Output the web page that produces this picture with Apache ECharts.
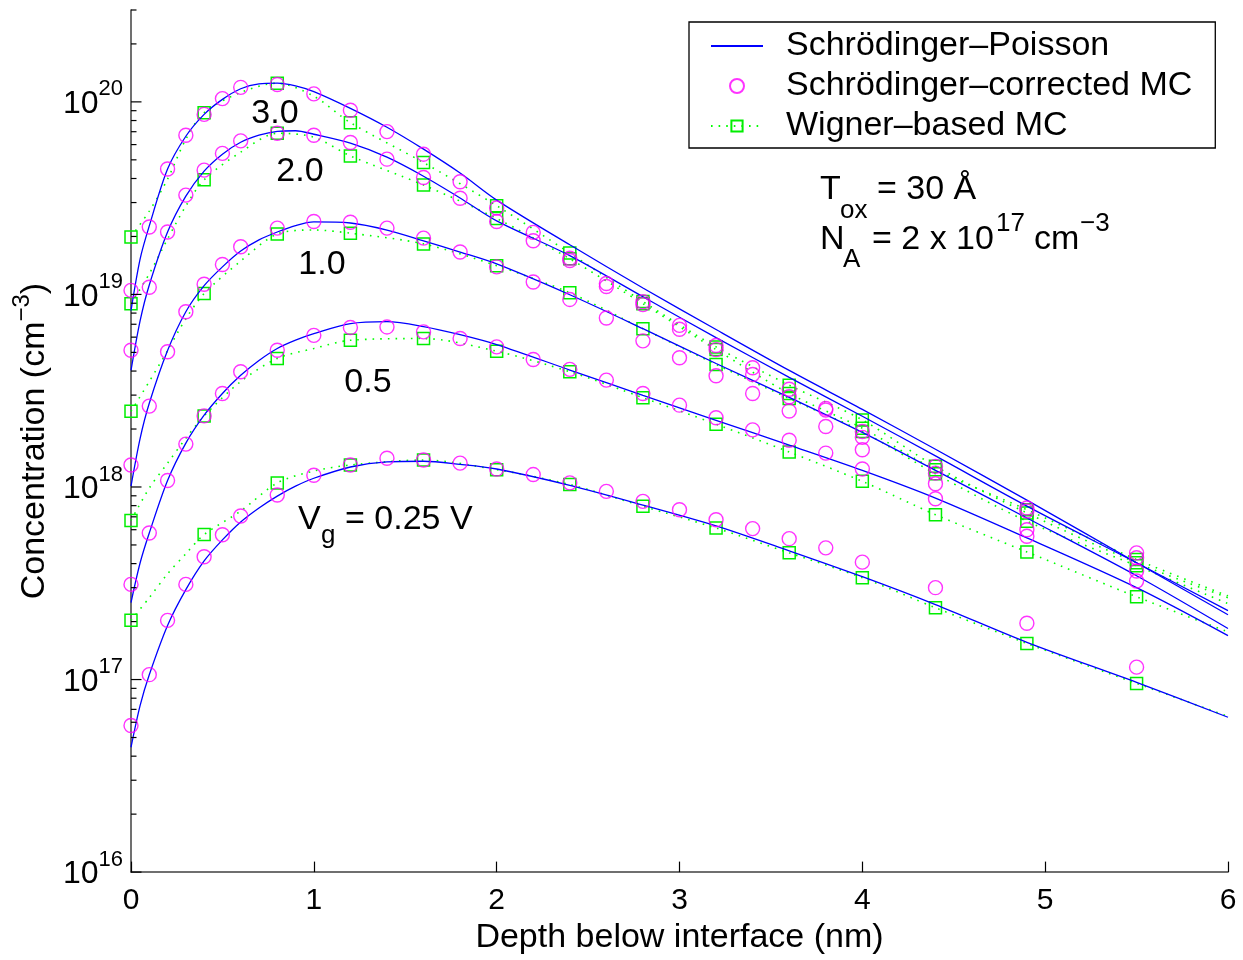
<!DOCTYPE html>
<html>
<head>
<meta charset="utf-8">
<script src="https://cdn.jsdelivr.net/npm/echarts@6.0.0/dist/echarts.min.js"></script>
<style>
html,body{margin:0;padding:0;background:#fff;}
#chart{width:1243px;height:960px;}
</style>
</head>
<body>
<div id="chart"></div>
<script>
// ---------------- DATA ----------------
// Schrödinger–Poisson (solid curves), depth in nm
const spX = [0,0.05,0.1,0.2,0.3,0.4,0.5,0.6,0.7,0.8,0.9,1.0,1.2,1.4,1.6,1.8,2.0,2.4,2.8,3.2,3.6,4.0,4.4,4.9,5.5,6.0];
const sp30 = [8.24e18,1.53e19,2.27e19,4.48e19,6.63e19,8.61e19,1.03e20,1.17e20,1.24e20,1.25e20,1.21e20,1.13e20,9.25e19,7.38e19,5.68e19,4.27e19,3.09e19,1.81e19,1.08e19,6.57e18,4.03e18,2.53e18,1.57e18,8.55e17,4.04e17,2.17e17];
const sp20 = [4.03e18,7.31e18,1.12e19,2.11e19,3.24e19,4.37e19,5.35e19,6.17e19,6.71e19,7.03e19,7.08e19,6.79e19,6.10e19,5.16e19,4.11e19,3.17e19,2.41e19,1.59e19,9.73e18,5.97e18,3.71e18,2.33e18,1.45e18,7.96e17,4.04e17,2.28e17];
const sp10 = [1.01e18,1.79e18,2.72e18,5.11e18,8.13e18,1.11e19,1.39e19,1.68e19,1.92e19,2.11e19,2.28e19,2.38e19,2.35e19,2.16e19,1.90e19,1.66e19,1.44e19,9.96e18,6.64e18,4.38e18,2.92e18,1.92e18,1.22e18,6.90e17,3.46e17,1.84e17];
const sp05 = [2.51e17,4.04e17,5.77e17,1.08e18,1.69e18,2.36e18,3.06e18,3.80e18,4.54e18,5.24e18,5.79e18,6.26e18,7.05e18,7.22e18,6.81e18,6.18e18,5.49e18,4.05e18,2.99e18,2.22e18,1.65e18,1.22e18,8.76e17,5.44e17,3.00e17,1.69e17];
const sp025 = [4.45e16,7.35e16,1.06e17,1.91e17,2.93e17,4.13e17,5.31e17,6.58e17,7.78e17,8.97e17,1.01e18,1.11e18,1.27e18,1.35e18,1.36e18,1.31e18,1.24e18,1.02e18,8.06e17,6.28e17,4.66e17,3.42e17,2.45e17,1.56e17,9.66e16,6.37e16];

// Schrödinger-corrected MC (circles)
const cX = [0,0.1,0.2,0.3,0.4,0.5,0.6,0.8,1.0,1.2,1.4,1.6,1.8,2.0,2.2,2.4,2.6,2.8,3.0,3.2,3.4,3.6,3.8,4.0,4.4,4.9,5.5];
const c30 = [1.05e19,2.24e19,4.48e19,6.71e19,8.61e19,1.04e20,1.19e20,1.23e20,1.10e20,9.04e19,7.01e19,5.35e19,3.85e19,2.81e19,2.10e19,1.54e19,1.14e19,9.16e18,6.91e18,5.43e18,4.16e18,3.22e18,2.56e18,1.94e18,1.28e18,7.50e17,4.29e17];
const c20 = [5.13e18,1.09e19,2.11e19,3.28e19,4.42e19,5.40e19,6.27e19,6.87e19,6.71e19,6.15e19,5.04e19,4.05e19,3.16e19,2.39e19,1.90e19,1.50e19,1.10e19,8.85e18,6.59e18,5.17e18,3.84e18,2.94e18,2.51e18,1.81e18,1.18e18,7.78e17,4.55e17];
const c10 = [1.30e18,2.63e18,5.04e18,8.13e18,1.13e19,1.43e19,1.77e19,2.21e19,2.39e19,2.37e19,2.21e19,1.96e19,1.66e19,1.39e19,1.16e19,9.42e18,7.55e18,5.74e18,4.69e18,3.78e18,3.06e18,2.48e18,2.06e18,1.56e18,1.04e18,6.00e17,3.66e17];
const c05 = [3.12e17,5.77e17,1.08e18,1.67e18,2.34e18,3.06e18,3.97e18,5.13e18,6.13e18,6.73e18,6.78e18,6.39e18,5.90e18,5.34e18,4.59e18,4.08e18,3.59e18,3.06e18,2.66e18,2.29e18,1.98e18,1.75e18,1.50e18,1.24e18,8.69e17,5.55e17,3.25e17];
const c025 = [5.77e16,1.06e17,2.03e17,3.12e17,4.34e17,5.65e17,7.07e17,9.08e17,1.15e18,1.30e18,1.41e18,1.38e18,1.33e18,1.24e18,1.16e18,1.05e18,9.49e17,8.42e17,7.62e17,6.76e17,6.08e17,5.39e17,4.83e17,4.07e17,3.00e17,1.96e17,1.16e17];

// Wigner-based MC (dotted curve; squares at sqX depths)
const wX = [0,0.1,0.2,0.3,0.4,0.6,0.8,1.0,1.2,1.6,2.0,2.4,2.8,3.2,3.6,4.0,4.4,4.9,5.5,6.0];
const sqX = [0,0.4,0.8,1.2,1.6,2.0,2.4,2.8,3.2,3.6,4.0,4.4,4.9,5.5];
const w30 = [1.99e19,2.71e19,3.97e19,6.40e19,8.79e19,1.12e20,1.25e20,1.07e20,7.80e19,4.84e19,2.89e19,1.64e19,9.18e18,5.34e18,3.38e18,2.23e18,1.28e18,7.33e17,4.04e17,2.66e17];
const w20 = [8.95e18,1.28e19,1.94e19,2.88e19,3.94e19,5.48e19,6.87e19,6.55e19,5.24e19,3.70e19,2.48e19,1.53e19,8.95e18,5.17e18,3.06e18,2.02e18,1.23e18,7.62e17,4.20e17,2.72e17];
const w10 = [2.47e18,3.53e18,5.11e18,7.48e18,1.01e19,1.49e19,2.06e19,2.16e19,2.08e19,1.83e19,1.41e19,1.02e19,6.64e18,4.33e18,2.88e18,1.94e18,1.17e18,6.64e17,3.90e17,2.48e17];
const w05 = [6.70e17,9.87e17,1.33e18,1.79e18,2.34e18,3.53e18,4.65e18,5.24e18,5.78e18,5.90e18,5.07e18,3.97e18,2.91e18,2.12e18,1.52e18,1.07e18,7.18e17,4.60e17,2.69e17,1.77e17];
const w025 = [2.03e17,2.66e17,3.54e17,4.50e17,5.66e17,7.50e17,1.05e18,1.21e18,1.30e18,1.38e18,1.23e18,1.03e18,7.94e17,6.12e17,4.55e17,3.38e17,2.36e17,1.54e17,9.55e16,6.44e16];

// axis ticks
const xTicks = [0,1,2,3,4,5,6];
const yMajor = [1e16,1e17,1e18,1e19,1e20];
const yMinor = [2e16,3e16,4e16,5e16,6e16,7e16,8e16,9e16,
                2e17,3e17,4e17,5e17,6e17,7e17,8e17,9e17,
                2e18,3e18,4e18,5e18,6e18,7e18,8e18,9e18,
                2e19,3e19,4e19,5e19,6e19,7e19,8e19,9e19,
                2e20,3e20];

const SP_NAME = 'Schrödinger–Poisson';
const SC_NAME = 'Schrödinger–corrected MC';
const WG_NAME = 'Wigner–based MC';
const FONT = '"Liberation Sans", Arial, Helvetica, sans-serif';

// ---------------- BUILD ----------------
const spSets = [sp30, sp20, sp10, sp05, sp025];
const cSets = [c30, c20, c10, c05, c025];
const wSets = [w30, w20, w10, w05, w025];

const series = [];
spSets.forEach(arr => {
  series.push({
    type: 'line', name: SP_NAME, data: spX.map((x, i) => [x, arr[i]]),
    smooth: 0.3, symbol: 'none', showSymbol: false,
    lineStyle: { color: '#0000ff', width: 1.3 }, itemStyle: { color: '#0000ff' },
    z: 3, silent: true
  });
});
wSets.forEach(arr => {
  series.push({
    type: 'line', name: WG_NAME,
    data: wX.map((x, i) => ({ value: [x, arr[i]], symbol: sqX.indexOf(x) >= 0 ? 'rect' : 'none' })),
    smooth: 0.3, symbol: 'rect', symbolSize: 12, showSymbol: true,
    lineStyle: { color: '#00ff00', width: 1.6, type: [1.6, 6] },
    itemStyle: { color: 'rgba(0,0,0,0)', borderColor: '#00ee00', borderWidth: 1.5 },
    z: 2, silent: true
  });
});
cSets.forEach(arr => {
  series.push({
    type: 'scatter', name: SC_NAME, data: cX.map((x, i) => [x, arr[i]]),
    symbol: 'circle', symbolSize: 14,
    itemStyle: { color: 'rgba(0,0,0,0)', borderColor: '#ff00ff', borderWidth: 1.4 },
    z: 4, silent: true
  });
});
// y-axis ticks (drawn inward through the log scale)
function tickSeries(vals, len) {
  return {
    type: 'custom', silent: true, z: 10,
    data: vals.map(v => [0, v]),
    renderItem: (params, api) => {
      const p = api.coord([api.value(0), api.value(1)]);
      return { type: 'line', shape: { x1: p[0], y1: p[1], x2: p[0] + len, y2: p[1] },
               style: { stroke: '#000', lineWidth: 1.2 } };
    }
  };
}
series.push(tickSeries(yMajor, 10.5));
series.push(tickSeries(yMinor, 5.5));

const chart = echarts.init(document.getElementById('chart'), null, { renderer: 'canvas' });

const textEl = (t, x, y, size, align) => ({
  type: 'text', x: x, y: y, silent: true, z: 20,
  style: { text: t, fill: '#000', fontSize: size, fontFamily: FONT, align: align || 'left', verticalAlign: 'middle' }
});

chart.setOption({
  animation: false,
  backgroundColor: '#fff',
  grid: { left: 131, right: 15, top: 10, bottom: 85, containLabel: false },
  xAxis: {
    type: 'value', min: 0, max: 6, interval: 1,
    name: 'Depth below interface (nm)', nameLocation: 'middle', nameGap: 47,
    nameTextStyle: { fontSize: 34, fontFamily: FONT, color: '#000' },
    axisLine: { show: true, onZero: false, lineStyle: { color: '#404040', width: 1.5 } },
    axisTick: { show: true, inside: true, length: 10.5, lineStyle: { color: '#000', width: 1.2 } },
    axisLabel: { fontSize: 30, fontFamily: FONT, color: '#000', margin: 14,
                 formatter: v => (xTicks.indexOf(v) >= 0 ? String(v) : '') },
    splitLine: { show: false }
  },
  yAxis: {
    type: 'log', logBase: 10, min: 1e16, max: 3e20,
    name: '{a|Concentration (cm}{s|−3}{a|)}', nameLocation: 'middle', nameGap: 65, nameRotate: 90,
    nameTextStyle: {
      fontFamily: FONT, color: '#000', fontSize: 34,
      rich: {
        a: { fontSize: 34, lineHeight: 34, verticalAlign: 'bottom', fontFamily: FONT, color: '#000' },
        s: { fontSize: 24, lineHeight: 42, verticalAlign: 'top', fontFamily: FONT, color: '#000' }
      }
    },
    axisLine: { show: true, onZero: false, lineStyle: { color: '#404040', width: 1.5 } },
    axisTick: { show: false },
    minorTick: { show: false },
    axisLabel: {
      margin: 8,
      padding: [0, 0, 5, 0],
      formatter: v => {
        const e = Math.log10(v); const r = Math.round(e);
        if (Math.abs(e - r) > 1e-6) return '';
        return '{b|10}{s|' + r + '}';
      },
      rich: {
        b: { fontSize: 32, lineHeight: 32, verticalAlign: 'bottom', fontFamily: FONT, color: '#000' },
        s: { fontSize: 22, lineHeight: 42, verticalAlign: 'top', fontFamily: FONT, color: '#000' }
      }
    },
    splitLine: { show: false }
  },
  legend: {
    orient: 'vertical', left: 689, top: 22,
    data: [
      { name: SP_NAME, itemStyle: { color: 'rgba(0,0,0,0)', borderWidth: 0, opacity: 0 } },
      { name: SC_NAME },
      { name: WG_NAME }
    ],
    padding: [7, 23, 5, 21],
    itemWidth: 52, itemHeight: 14, itemGap: 6,
    borderColor: '#000', borderWidth: 1.3, backgroundColor: '#fff',
    selectedMode: false,
    textStyle: { fontSize: 34, fontFamily: FONT, color: '#000', padding: [0, 0, 0, 18] }
  },
  graphic: [
    textEl('3.0', 275, 114, 34, 'center'),
    textEl('2.0', 300, 172, 34, 'center'),
    textEl('1.0', 322, 265, 34, 'center'),
    textEl('0.5', 368, 383, 34, 'center'),
    textEl('V', 298, 520, 34),
    textEl('g', 321, 536, 26),
    textEl('= 0.25 V', 345, 520, 34),
    textEl('T', 820, 190, 34),
    textEl('ox', 840, 211, 26),
    textEl('= 30 Å', 877, 190, 34),
    textEl('N', 820, 240, 34),
    textEl('A', 843, 260, 26),
    textEl('= 2 x 10', 872, 240, 34),
    textEl('17', 996, 224, 26),
    textEl('cm', 1034, 240, 34),
    textEl('−3', 1080, 224, 26)
  ],
  series: series
});
</script>
</body>
</html>
